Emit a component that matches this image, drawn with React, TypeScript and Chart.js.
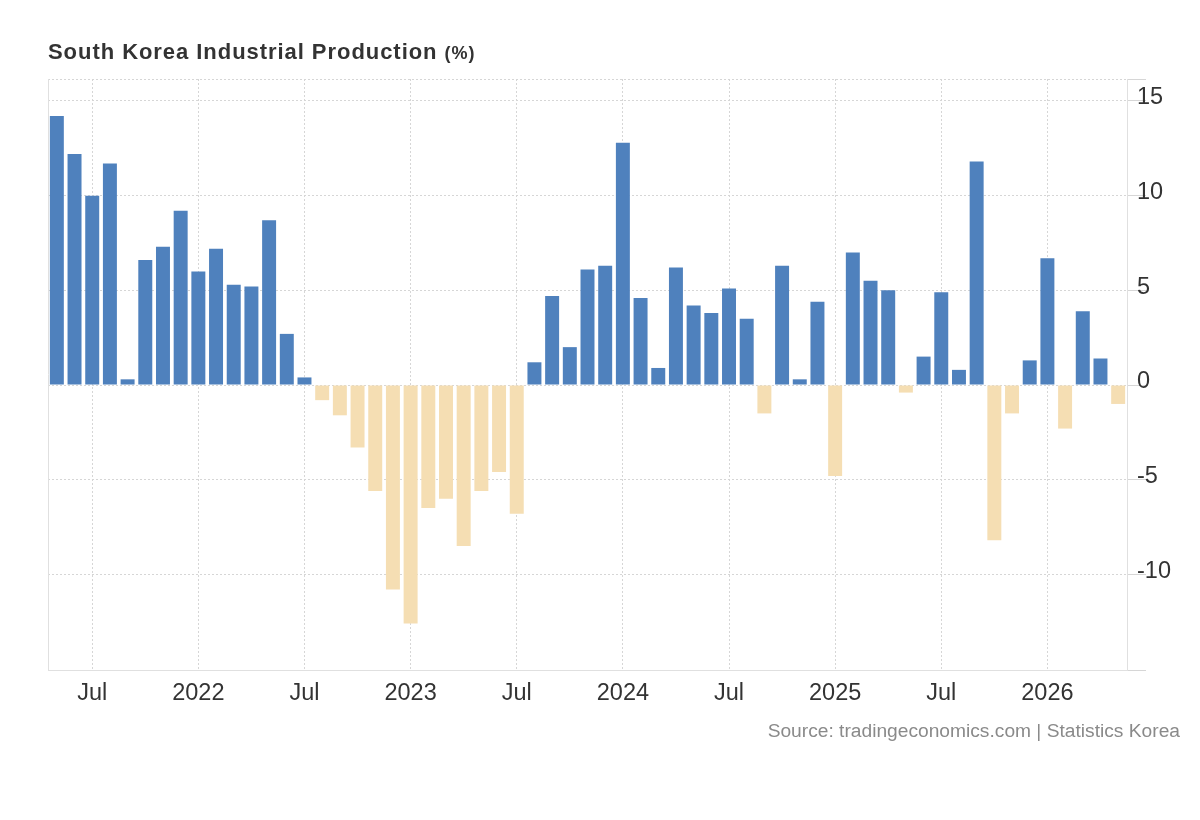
import React, { useEffect, useRef } from 'react';
import { Chart, registerables } from 'chart.js';

Chart.register(...registerables);

const months: string[] = [
  '2021-05', '2021-06', '2021-07', '2021-08', '2021-09', '2021-10', '2021-11', '2021-12',
  '2022-01', '2022-02', '2022-03', '2022-04', '2022-05', '2022-06', '2022-07', '2022-08', '2022-09', '2022-10', '2022-11', '2022-12',
  '2023-01', '2023-02', '2023-03', '2023-04', '2023-05', '2023-06', '2023-07', '2023-08', '2023-09', '2023-10', '2023-11', '2023-12',
  '2024-01', '2024-02', '2024-03', '2024-04', '2024-05', '2024-06', '2024-07', '2024-08', '2024-09', '2024-10', '2024-11', '2024-12',
  '2025-01', '2025-02', '2025-03', '2025-04', '2025-05', '2025-06', '2025-07', '2025-08', '2025-09', '2025-10', '2025-11', '2025-12',
  '2026-01', '2026-02', '2026-03', '2026-04', '2026-05',
];

const production: number[] = [
  14.2, 12.2, 10.0, 11.7, 0.3, 6.6, 7.3, 9.2,
  6.0, 7.2, 5.3, 5.2, 8.7, 2.7, 0.4, -0.8, -1.6, -3.3, -5.6, -10.8,
  -12.6, -6.5, -6.0, -8.5, -5.6, -4.6, -6.8, 1.2, 4.7, 2.0, 6.1, 6.3,
  12.8, 4.6, 0.9, 6.2, 4.2, 3.8, 5.1, 3.5, -1.5, 6.3, 0.3, 4.4,
  -4.8, 7.0, 5.5, 5.0, -0.4, 1.5, 4.9, 0.8, 11.8, -8.2, -1.5, 1.3,
  6.7, -2.3, 3.9, 1.4, -1.0,
];

const yTickValues: number[] = [-10, -5, 0, 5, 10, 15];
const yMin = -15.05;
const yMax = 16.16;

const POS_COLOR = '#4f81bd';
const NEG_COLOR = '#f5deb3';
const FONT = "'Liberation Sans', Arial, Helvetica, sans-serif";

function xLabel(i: number): string {
  const m = months[i];
  if (!m) return '';
  if (m.endsWith('-01')) return m.slice(0, 4);
  if (m.endsWith('-07')) return 'Jul';
  return '';
}

const leftBorder = {
  id: 'leftBorder',
  beforeDatasetsDraw(chart: any) {
    const { ctx, chartArea } = chart;
    ctx.save();
    ctx.strokeStyle = '#e0e0e0';
    ctx.lineWidth = 1;
    ctx.beginPath();
    ctx.moveTo(chartArea.left + 0.5, chartArea.top);
    ctx.lineTo(chartArea.left + 0.5, chartArea.bottom);
    ctx.stroke();
    ctx.restore();
  },
};

export default function App() {
  const canvasRef = useRef<HTMLCanvasElement | null>(null);

  useEffect(() => {
    if (!canvasRef.current) return;
    const chart = new Chart(canvasRef.current, {
      type: 'bar',
      data: {
        labels: months,
        datasets: [
          {
            data: production,
            backgroundColor: production.map((v) => (v >= 0 ? POS_COLOR : NEG_COLOR)),
            borderWidth: 0,
            categoryPercentage: 1,
            barPercentage: 0.79,
          },
        ],
      },
      options: {
        responsive: false,
        animation: false,
        layout: { padding: { left: 48, top: 79, right: 0, bottom: 0 } },
        plugins: {
          legend: { display: false },
          title: { display: false },
          tooltip: { enabled: false },
        },
        scales: {
          x: {
            type: 'category',
            offset: true,
            afterFit: (scale: any) => {
              scale.height = 150;
            },
            grid: {
              offset: false,
              drawTicks: false,
              color: (ctx: any) => (xLabel(ctx.index) ? '#d6d6d6' : 'rgba(0,0,0,0)'),
              lineWidth: 1,
            },
            border: { display: true, color: '#e0e0e0', width: 1, dash: [2, 2] },
            ticks: {
              autoSkip: false,
              maxRotation: 0,
              minRotation: 0,
              padding: 9,
              color: '#333333',
              font: { family: FONT, size: 23.5 },
              callback: (_v: any, i: number) => xLabel(i),
            },
          },
          y: {
            position: 'right',
            min: yMin,
            max: yMax,
            afterBuildTicks: (scale: any) => {
              scale.ticks = [yMin, ...yTickValues, yMax].map((v) => ({ value: v }));
            },
            afterFit: (scale: any) => {
              scale.width = 73;
            },
            grid: {
              color: '#d6d6d6',
              lineWidth: 1,
              drawTicks: true,
              tickLength: 19,
              tickColor: '#d6d6d6',
              tickBorderDash: [],
            },
            border: { display: true, color: '#e0e0e0', width: 1, dash: [2, 2] },
            ticks: {
              autoSkip: false,
              padding: -9,
              labelOffset: -3,
              color: '#333333',
              font: { family: FONT, size: 23.5 },
              callback: (v: any) => (yTickValues.includes(Number(v)) ? String(v) : ''),
            },
          },
        },
      },
      plugins: [leftBorder],
    } as any);
    return () => chart.destroy();
  }, []);

  return (
    <div style={{ position: 'absolute', left: 0, top: 0, width: 1200, height: 820, background: '#fff' }}>
      <canvas
        ref={canvasRef}
        width={1200}
        height={820}
        style={{ position: 'absolute', left: 0, top: 0, width: 1200, height: 820 }}
      />
      <div
        style={{
          position: 'absolute',
          left: 48,
          top: 38,
          fontFamily: FONT,
          fontWeight: 'bold',
          fontSize: 22,
          letterSpacing: 0.95,
          color: '#333333',
          whiteSpace: 'nowrap',
          lineHeight: '28px',
        }}
      >
        South Korea Industrial Production{' '}
        <span style={{ fontSize: 18, letterSpacing: 1 }}>(%)</span>
      </div>
      <div
        style={{
          position: 'absolute',
          right: 20,
          top: 719,
          fontFamily: FONT,
          fontSize: 19.2,
          color: '#8a8a8a',
          whiteSpace: 'nowrap',
          lineHeight: '24px',
        }}
      >
        Source: tradingeconomics.com | Statistics Korea
      </div>
    </div>
  );
}
